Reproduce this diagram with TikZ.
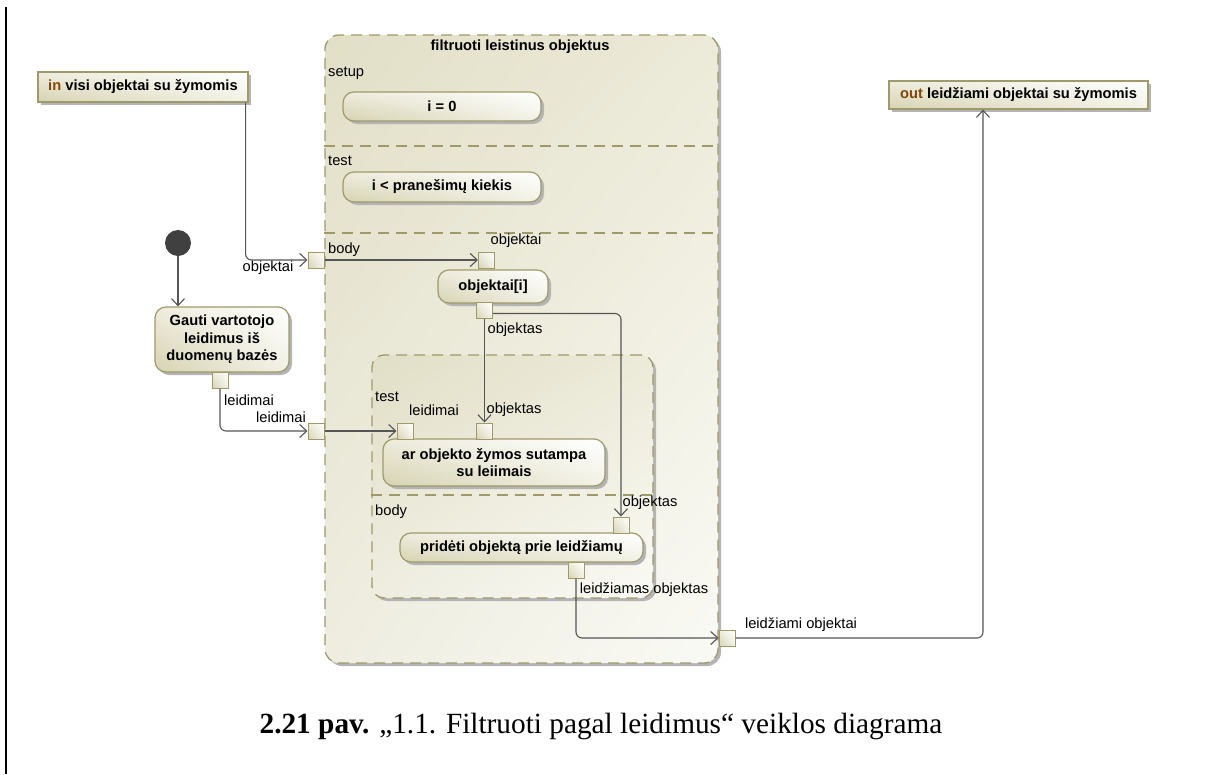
\documentclass[tikz,border=0pt]{standalone}
\usepackage{fontspec}
\setmainfont{Liberation Sans}
\newfontfamily\capfont{Liberation Serif}
\usetikzlibrary{arrows.meta,shadows,shadings}

\definecolor{umlline}{RGB}{158,154,106}
\definecolor{beigeA}{RGB}{214,211,178}
\definecolor{beigeB}{RGB}{238,236,221}
\definecolor{beigeC}{RGB}{242,241,229}
\definecolor{regTL}{RGB}{226,223,199}
\definecolor{regTR}{RGB}{236,234,216}
\definecolor{regBL}{RGB}{238,237,224}
\definecolor{regBR}{RGB}{250,250,245}
\definecolor{wire}{RGB}{85,85,85}
\definecolor{kw}{RGB}{130,70,10}
\definecolor{shadowgray}{RGB}{180,180,180}
\definecolor{initfill}{RGB}{64,64,64}

\tikzset{
  every node/.style={font=\fontsize{14.7}{17.5}\selectfont, inner sep=0pt},
  softshadow/.style={drop shadow={shadow xshift=3pt, shadow yshift=-3pt, fill=shadowgray, opacity=1}},
  action/.style={draw=umlline, line width=1.2pt, rounded corners=11pt,
    lower left=beigeA, upper left=beigeB, lower right=beigeC, upper right=white,
    softshadow, align=center, font=\fontsize{14.7}{17.5}\selectfont\bfseries},
  param/.style={draw=umlline, line width=1.2pt,
    lower left=beigeA, upper left=beigeB, lower right=beigeC, upper right=white,
    softshadow, font=\fontsize{14.7}{17.5}\selectfont\bfseries},
  region/.style={draw=umlline, line width=1.3pt, dash pattern=on 11pt off 7pt,
    rounded corners=14pt, upper left=regTL, upper right=regTR, lower left=regBL,
    lower right=regBR, softshadow},
  pinbox/.style={draw=umlline, line width=1pt, minimum size=16pt,
    lower left=beigeA, upper left=beigeB, lower right=beigeC, upper right=white},
  separator/.style={draw=umlline, line width=1.1pt, dash pattern=on 11pt off 7pt},
  flow/.style={draw=wire, line width=1.1pt, rounded corners=6pt,
    -{Straight Barb[length=7pt, width=13pt, line width=1.1pt]}},
  lbl/.style={font=\fontsize{14.7}{17.5}\selectfont},
  title/.style={font=\fontsize{14.7}{17.5}\selectfont\bfseries},
}

\begin{document}
\begin{tikzpicture}[x=1pt, y=-1pt]
\useasboundingbox (0,0) rectangle (1205,774);

% page margin rule
\draw[line width=2.5pt] (6,7) -- (6,774);

% expansion region (loop node)
\node[region, minimum width=393pt, minimum height=628pt] (loop) at (521.5,349) {};
\node[title] (looptitle) at (520,47) {filtruoti leistinus objektus};
\draw[separator] (loop.west |- 0,146) -- (loop.east |- 0,146);
\draw[separator] (loop.west |- 0,233) -- (loop.east |- 0,233);
\node[lbl, anchor=west] (lsetup) at (328,73) {setup};
\node[lbl, anchor=west] (ltest) at (328,161) {test};
\node[lbl, anchor=west] (lbody) at (328,250) {body};

\node[action, minimum width=198pt, minimum height=29pt] (init0) at (442,106.5) {i = 0};
\node[action, minimum width=198pt, minimum height=30pt] (cond) at (442,187) {i < pranešimų kiekis};
\node[action, minimum width=110pt, minimum height=33pt] (elem) at (493,286.5) {objektai[i]};

% nested region
\node[region, rounded corners=12pt, minimum width=281pt, minimum height=243pt] (inner) at (512.5,476.5) {};
\draw[separator] (inner.west |- 0,495) -- (inner.east |- 0,495);
\node[lbl, anchor=west] (itest) at (375,397) {test};
\node[lbl, anchor=west] (ibody) at (375,512) {body};

\node[action, minimum width=222pt, minimum height=47pt] (match) at (494,462.5) {ar objekto žymos sutampa\\su leiimais};
\node[action, minimum width=243pt, minimum height=29pt] (add) at (521.5,547.5) {pridėti objektą prie leidžiamų};

% outer actions and parameters
\node[param, minimum width=210pt, minimum height=30pt] (inpar) at (143,87) {\textcolor{kw}{in} visi objektai su žymomis};
\node[param, minimum width=259pt, minimum height=28pt] (outpar) at (1018.5,95) {\textcolor{kw}{out} leidžiami objektai su žymomis};

\fill[initfill] (178,243) circle (13pt);
\node[circle, minimum size=26pt] (initial) at (178,243) {};

\node[action, minimum width=134pt, minimum height=65pt] (fetch) at (222,339.5) {Gauti vartotojo\\leidimus iš\\duomenų bazės};

% pins
\node[pinbox] (pObjIn) at (316,260) {};
\node[pinbox] (pElemIn) at (486.5,260) {};
\node[pinbox] (pElemOut) at (484.5,310.5) {};
\node[pinbox] (pFetchOut) at (220,380) {};
\node[pinbox] (pLeidIn) at (316,431) {};
\node[pinbox] (pMatchLeid) at (405,431) {};
\node[pinbox] (pMatchObj) at (484.5,431) {};
\node[pinbox] (pAddObj) at (621,525) {};
\node[pinbox] (pAddOut) at (576,570) {};
\node[pinbox] (pOut) at (727,638) {};

% pin labels
\node[lbl] (tObjIn) at (268,268) {objektai};
\node[lbl] (tElemIn) at (516,241) {objektai};
\node[lbl] (tElemOut) at (515,330) {objektas};
\node[lbl] (tFetchOut) at (249,400) {leidimai};
\node[lbl] (tLeidIn) at (281,417) {leidimai};
\node[lbl] (tMatchLeid) at (434,410) {leidimai};
\node[lbl] (tMatchObj) at (514,410) {objektas};
\node[lbl] (tAddObj) at (650,503) {objektas};
\node[lbl] (tAddOut) at (644,590) {leidžiamas objektas};
\node[lbl] (tOut) at (801,625) {leidžiami objektai};

% object and control flows
\draw[flow] ([xshift=-3pt]inpar.south east) |- (pObjIn.west);
\draw[flow] (pObjIn.east) -- (pElemIn.west);
\draw[flow] (pElemOut.south) -- (pMatchObj.north);
\draw[flow] ([yshift=-3pt]pElemOut.east) -| (pAddObj.north);
\draw[flow] (initial.south) -- (initial.south |- fetch.north);
\draw[flow] (pFetchOut.south) |- (pLeidIn.west);
\draw[flow] (pLeidIn.east) -- (pMatchLeid.west);
\draw[flow] (pAddOut.south) |- (pOut.west);
\draw[flow] (pOut.east) -| ([xshift=-35.5pt]outpar.south);

% caption
\node[font=\capfont\fontsize{29.3}{34}\selectfont, anchor=base] (caption) at (601,733)
  {\textbf{2.21 pav.} „1.1. Filtruoti pagal leidimus“ veiklos diagrama};
\end{tikzpicture}
\end{document}
